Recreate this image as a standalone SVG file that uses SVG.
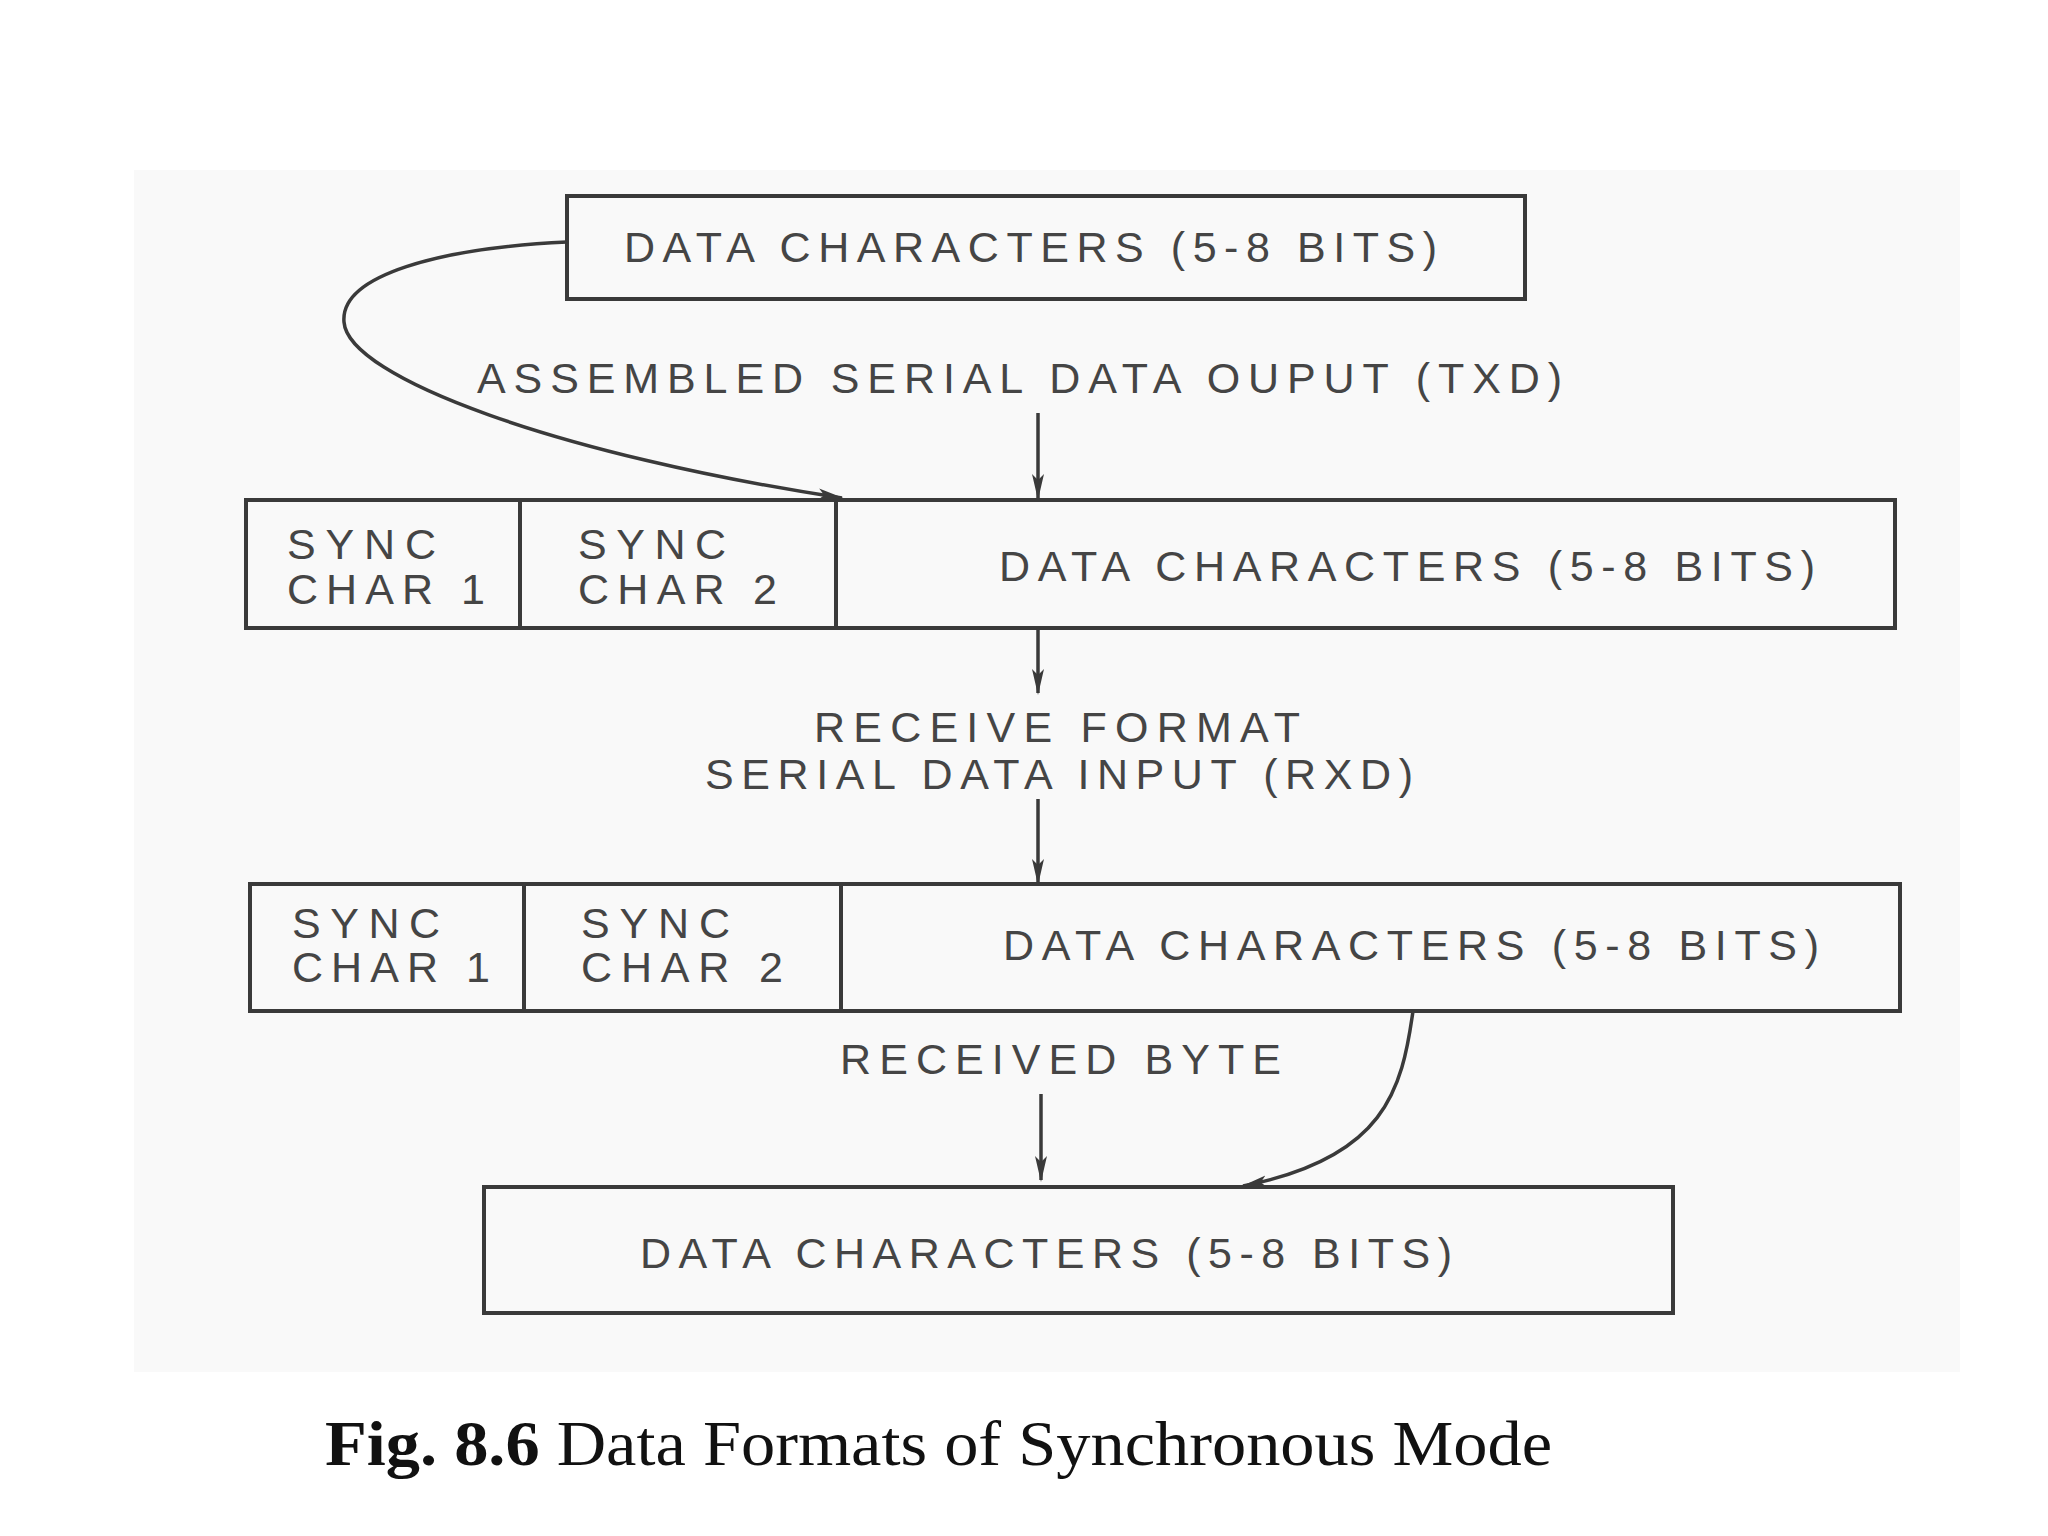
<svg xmlns="http://www.w3.org/2000/svg" width="2048" height="1536" viewBox="0 0 2048 1536">
<defs>
<marker id="ah" markerWidth="26" markerHeight="14" refX="24" refY="7" orient="auto" markerUnits="userSpaceOnUse" viewBox="0 0 26 14">
<path d="M0,1 L26,7 L0,13 L6,7 Z" fill="#3a3a3a"/>
</marker>
<style>
.box{fill:none;stroke:#3a3a3a;stroke-width:4}
.lbl{font-family:"Liberation Sans",Arial,sans-serif;font-size:43px;fill:#454545}
.cap{font-family:"Liberation Serif","Times New Roman",serif;font-size:63px;fill:#111}
.con{fill:none;stroke:#3a3a3a;stroke-width:3.5}
</style>
</defs>
<rect width="2048" height="1536" fill="#ffffff"/>
<rect x="134" y="170" width="1826" height="1202" fill="#f9f9f9"/>

<g id="top-data">
<rect class="box" x="567" y="196" width="958" height="103"/>
<text class="lbl" x="624" y="262" textLength="813" lengthAdjust="spacing">DATA CHARACTERS (5-8 BITS)</text>
</g>

<g id="label-txd">
<text class="lbl" x="477" y="393" textLength="1085" lengthAdjust="spacing" font-size="45">ASSEMBLED SERIAL DATA OUPUT (TXD)</text>
</g>

<g id="tx-frame">
<rect class="box" x="246" y="500" width="1649" height="128"/>
<line class="box" x1="520" y1="500" x2="520" y2="628"/>
<line class="box" x1="836" y1="500" x2="836" y2="628"/>
<text class="lbl" x="287" y="559" textLength="149" lengthAdjust="spacing">SYNC</text>
<text class="lbl" x="287" y="604" textLength="198" lengthAdjust="spacing">CHAR 1</text>
<text class="lbl" x="578" y="559" textLength="148" lengthAdjust="spacing">SYNC</text>
<text class="lbl" x="578" y="604" textLength="199" lengthAdjust="spacing">CHAR 2</text>
<text class="lbl" x="999" y="581" textLength="816" lengthAdjust="spacing">DATA CHARACTERS (5-8 BITS)</text>
</g>

<g id="label-rxd">
<text class="lbl" x="814" y="742" textLength="486" lengthAdjust="spacing">RECEIVE FORMAT</text>
<text class="lbl" x="705" y="789" textLength="708" lengthAdjust="spacing">SERIAL DATA INPUT (RXD)</text>
</g>

<g id="rx-frame">
<rect class="box" x="250" y="884" width="1650" height="127"/>
<line class="box" x1="524" y1="884" x2="524" y2="1011"/>
<line class="box" x1="841" y1="884" x2="841" y2="1011"/>
<text class="lbl" x="292" y="938" textLength="148" lengthAdjust="spacing">SYNC</text>
<text class="lbl" x="292" y="982" textLength="198" lengthAdjust="spacing">CHAR 1</text>
<text class="lbl" x="581" y="938" textLength="149" lengthAdjust="spacing">SYNC</text>
<text class="lbl" x="581" y="982" textLength="202" lengthAdjust="spacing">CHAR 2</text>
<text class="lbl" x="1003" y="960" textLength="816" lengthAdjust="spacing">DATA CHARACTERS (5-8 BITS)</text>
</g>

<g id="label-byte">
<text class="lbl" x="840" y="1074" textLength="441" lengthAdjust="spacing">RECEIVED BYTE</text>
</g>

<g id="bottom-data">
<rect class="box" x="484" y="1187" width="1189" height="126"/>
<text class="lbl" x="640" y="1268" textLength="812" lengthAdjust="spacing">DATA CHARACTERS (5-8 BITS)</text>
</g>

<g id="connectors">
<path class="con" d="M567,242 C440,248 340,275 344,322 C348,378 560,455 842,498" marker-end="url(#ah)"/>
<line class="con" x1="1038" y1="413" x2="1038" y2="498" marker-end="url(#ah)"/>
<line class="con" x1="1038" y1="628" x2="1038" y2="693" marker-end="url(#ah)"/>
<line class="con" x1="1038" y1="799" x2="1038" y2="883" marker-end="url(#ah)"/>
<line class="con" x1="1041" y1="1094" x2="1041" y2="1180" marker-end="url(#ah)"/>
<path class="con" d="M1413,1011 C1402,1090 1385,1158 1243,1186" marker-end="url(#ah)"/>
</g>

<g id="caption">
<text class="cap" x="325" y="1465" textLength="1227" lengthAdjust="spacingAndGlyphs"><tspan font-weight="bold">Fig. 8.6</tspan> Data Formats of Synchronous Mode</text>
</g>
</svg>
